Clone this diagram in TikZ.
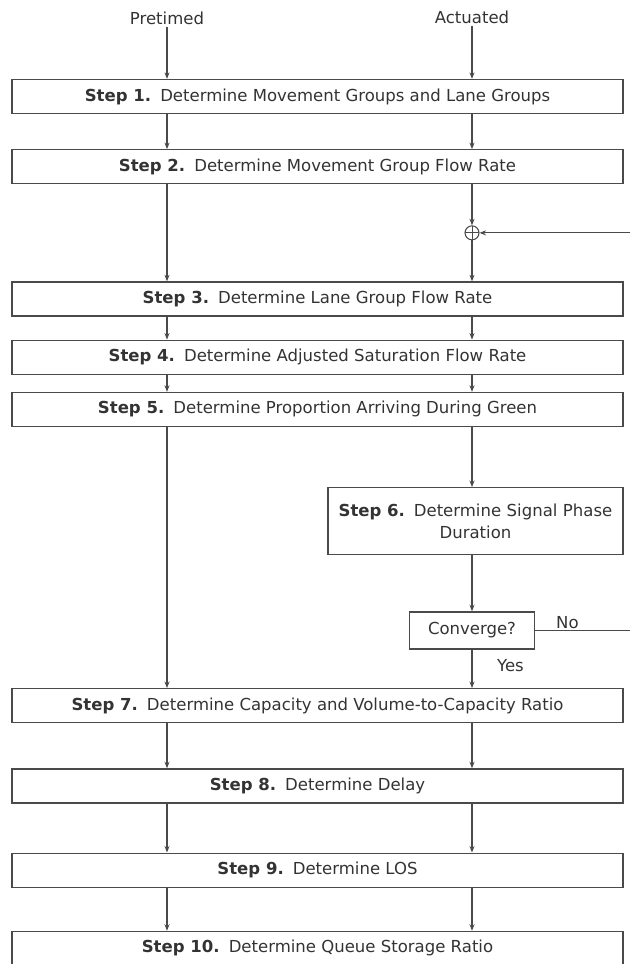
\documentclass[tikz,border=0pt]{standalone}
\usepackage{fontspec}
\setmainfont{DejaVu Sans}
\usetikzlibrary{positioning, arrows.meta, calc}
\definecolor{ink}{HTML}{4A4A4A}
\definecolor{char}{HTML}{333333}
\tikzset{
  stepbox/.style={draw=ink, line width=0.7pt, minimum width=122.2mm, minimum height=6.8mm,
                  align=center, inner sep=2pt, text=char, font=\fontsize{9.4}{11.5}\selectfont},
  sidebox/.style={draw=ink, line width=0.7pt, minimum width=59mm, minimum height=13.4mm,
                  text width=57mm, align=center, inner sep=1pt, text=char,
                  font=\fontsize{9.4}{12.5}\selectfont},
  askbox/.style={draw=ink, line width=0.7pt, minimum width=25mm, minimum height=7.4mm,
                 align=center, inner sep=2pt, text=char, font=\fontsize{9.4}{11.5}\selectfont},
  sumnode/.style={draw=ink, circle, line width=0.6pt, minimum size=2.8mm, inner sep=0pt,
                  path picture={\draw[ink, line width=0.5pt]
                    (path picture bounding box.north) -- (path picture bounding box.south)
                    (path picture bounding box.west) -- (path picture bounding box.east);}},
  lbl/.style={inner sep=1pt, text=char, font=\fontsize{9.4}{11.5}\selectfont},
  arr/.style={-{Stealth[length=1.3mm, width=1mm]}, draw=ink, line width=0.6pt},
  ln/.style={draw=ink, line width=0.6pt},
}
\newcommand{\stp}[2]{\textbf{Step #1.}\hspace{0.55em}#2}

\begin{document}
\begin{tikzpicture}
  \useasboundingbox (0,0) rectangle (126mm,-192.8mm);
  \coordinate (pre) at (33.4mm,0);
  \coordinate (act) at (94.4mm,0);
  \coordinate (edge) at (126mm,0);

  \node[lbl] (pret) at (33.4mm,-3.6mm) {Pretimed};
  \node[lbl] (actu) at (94.4mm,-3.4mm) {Actuated};

  \node[stepbox] (s1) at (63.5mm,-19.3mm) {\stp{1}{Determine Movement Groups and Lane Groups}};
  \node[stepbox, below=7mm of s1] (s2) {\stp{2}{Determine Movement Group Flow Rate}};
  \node[stepbox, below=19.4mm of s2] (s3) {\stp{3}{Determine Lane Group Flow Rate}};
  \node[stepbox, below=4.6mm of s3] (s4) {\stp{4}{Determine Adjusted Saturation Flow Rate}};
  \node[stepbox, below=3.4mm of s4] (s5) {\stp{5}{Determine Proportion Arriving During Green}};
  \node[sidebox, below=12mm of s5.south east, anchor=north east] (s6)
    {\stp{6}{Determine Signal Phase}\\Duration};
  \node[askbox, anchor=north] (conv) at ($(s6.south -| act)+(0,-11.2mm)$) {Converge?};
  \node[stepbox, below=52.2mm of s5] (s7)
    {\stp{7}{Determine Capacity and Volume-to-Capacity Ratio}};
  \node[stepbox, below=9mm of s7] (s8) {\stp{8}{Determine Delay}};
  \node[stepbox, below=9.8mm of s8] (s9) {\stp{9}{Determine LOS}};
  \node[stepbox, below=8.6mm of s9] (s10) {\stp{10}{Determine Queue Storage Ratio}};

  \node[sumnode] (sum) at ($(s2.south -| act)!0.5!(s3.north -| act)$) {};

  % two columns of arrows
  \draw[arr] (pret.south) -- (s1.north -| pre);
  \draw[arr] (actu.south) -- (s1.north -| act);
  \foreach \a/\b in {s1/s2, s3/s4, s4/s5, s7/s8, s8/s9, s9/s10} {
    \draw[arr] (\a.south -| pre) -- (\b.north -| pre);
    \draw[arr] (\a.south -| act) -- (\b.north -| act);
  }
  \draw[arr] (s2.south -| pre) -- (s3.north -| pre);
  \draw[arr] (s5.south -| pre) -- (s7.north -| pre);

  % actuated loop
  \draw[arr] (s2.south -| act) -- (sum.north);
  \draw[arr] (sum.south) -- (s3.north -| act);
  \draw[arr] (s5.south -| act) -- (s6.north -| act);
  \draw[arr] (s6.south -| act) -- (conv.north);
  \draw[arr] (conv.south) -- (s7.north -| act);
  \draw[ln] (conv.east) -- (conv.east -| edge);
  \draw[arr] (sum.east -| edge) -- (sum.east);
  \node[lbl, above right=0mm and 3.8mm of conv.east] (no) {No};
  \node[lbl, anchor=west] (yes) at ($(conv.south)!0.42!(conv.south |- s7.north)+(4.6mm,0)$) {Yes};
\end{tikzpicture}
\end{document}
